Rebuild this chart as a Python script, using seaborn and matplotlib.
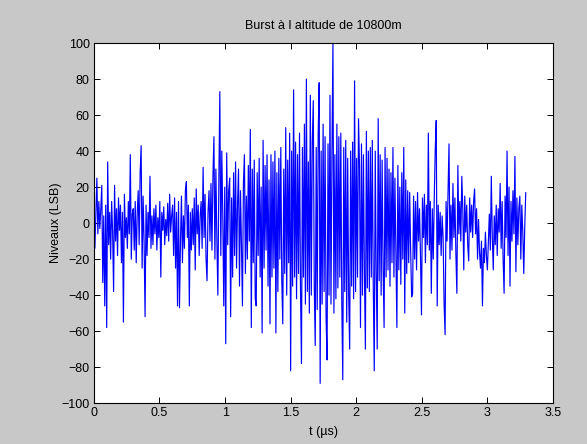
import numpy as np
import pandas as pd
import matplotlib
matplotlib.use("Agg")
import matplotlib.pyplot as plt
import seaborn as sns

# sample step in microseconds (one sample every 7.5 ns)
dt_us = 0.0075

# signal levels (LSB), 20 samples per row (0.15 us)
levels = [
    -8, -14, 5, 25, -6, 12, -3, 8, 21, -33, 4, -46, 10, -58, 34, -12, 6, -20, 12, -5,
    -38, 21, -10, 8, -18, 14, -4, 10, -22, 6, -55, 16, -8, 3, -14, 12, -6, 38, -20, 5,
    8, -15, 12, -22, 5, 18, -12, 28, 43, -25, 15, -10, -52, 10, -18, 6, -8, 26, -14, 4,
    -12, 8, -6, 10, -15, 3, -8, 12, -30, 6, -4, 9, -12, 2, -7, 11, -10, 16, -5, 4,
    10, -18, 14, -25, 6, -46, 12, -47, -10, 15, -22, 4, -14, 18, 23, -8, 10, -46, 6, -15,
    8, -12, 14, -26, 19, -6, 10, -18, 4, 12, -14, 31, -8, 16, -20, -32, 6, 18, -10, 22,
    -15, 26, 48, -20, 30, -10, -40, 22, 73, -18, 40, 5, -46, 20, -67, 39, -12, 18, 25, -52,
    14, -30, 28, -18, 34, -25, 10, 30, -35, 18, -12, -46, 22, 38, -28, 15, -20, 32, -10, 52,
    -58, 30, -22, 35, -42, -46, 28, -18, 36, -30, 20, -61, 46, -25, 32, -15, 38, -35, 24, -56,
    38, -30, 34, -25, 40, -61, 28, -38, 36, -20, 42, -32, -56, 30, -28, 53, -40, 35, -22, 50,
    -82, 40, -35, 74, -30, 45, -42, 38, -28, 50, -36, -78, 42, -30, 55, -45, 80, -38, 34, -50,
    71, -40, 45, 68, -35, -68, 42, -48, 50, 78, -89, 40, -45, 55, -38, 48, -52, -76, 44, -40,
    71, -45, 40, 100, -50, 38, -42, 55, -36, 48, -30, 50, -44, -87, 42, -38, 46, -55, 36, -40,
    -70, 40, -35, 45, -42, 79, -38, 36, -30, 58, 32, -58, 44, -40, 38, -28, -70, 51, -36, 40,
    -38, 42, -30, 46, -35, -82, 40, -28, -70, 58, -32, 38, -40, 35, -25, -58, 42, -30, 36, -26,
    30, -35, 28, -22, 42, -30, 25, -18, -58, 32, -26, 20, -34, 28, -20, 42, -50, 24, -28, 18,
    -22, 17, -15, -41, -39, 15, -20, 12, -26, 17, -10, 8, -18, -51, 14, -8, 16, -22, 10, -12,
    50, -15, 12, -39, 8, -20, 14, 41, 57, -46, 10, -12, 6, -18, 4, -8, -45, -62, 12, -10,
    18, 44, -20, 10, -15, 22, -8, 14, -18, -39, 32, -6, 12, -10, 26, 8, -26, 15, -5, 10,
    -12, -21, 14, -5, 10, -8, 12, 19, -6, 8, -20, 2, -16, -25, -10, -46, -14, -22, -5, -18,
    -26, -10, 5, -15, 26, -8, -26, 4, -12, 10, -18, 8, -5, 22, -14, 12, -20, -39, 15, -8,
    40, -18, 20, -35, 12, -10, 18, -6, 37, -27, 14, -12, 8, 15, -20, 10, -5, -28, -2, 17,
]

x_ticks = [0, 0.5, 1, 1.5, 2, 2.5, 3, 3.5]
x_labels = ["0", "0.5", "1", "1.5", "2", "2.5", "3", "3.5"]
y_ticks = list(range(-100, 101, 20))

df = pd.DataFrame({"t": np.arange(len(levels)) * dt_us, "level": levels})

sns.set_style("ticks")
plt.rcParams["font.family"] = ["Liberation Sans", "DejaVu Sans"]
plt.rcParams["font.size"] = 9
plt.rcParams["text.color"] = "black"
plt.rcParams["axes.labelcolor"] = "black"

fig = plt.figure(figsize=(5.87, 4.44), dpi=100, facecolor="#c8c8c8")
ax = fig.add_axes([0.160, 0.092, 0.782, 0.811])
ax.set_facecolor("white")

sns.lineplot(data=df, x="t", y="level", ax=ax, color="#0000ff",
             linewidth=0.85, estimator=None)

ax.set_xlim(0, 3.5)
ax.set_ylim(-100, 100)
ax.set_xticks(x_ticks)
ax.set_xticklabels(x_labels)
ax.set_yticks(y_ticks)
ax.tick_params(direction="in", top=True, right=True, length=4, width=0.7,
               labelsize=9, colors="black", pad=3)
for side in ax.spines.values():
    side.set_visible(True)
    side.set_color("black")
    side.set_linewidth(0.8)

ax.set_title("Burst à l altitude de 10800m", fontsize=9, pad=10, color="black")
ax.set_xlabel("t (µs)", fontsize=9, labelpad=5)
ax.set_ylabel("Niveaux (LSB)", fontsize=9)
# matlab puts the y label closer to the axis than matplotlib does
ax.yaxis.set_label_coords(-0.07, 0.5)

fig.savefig("out.png", dpi=100, facecolor=fig.get_facecolor())
